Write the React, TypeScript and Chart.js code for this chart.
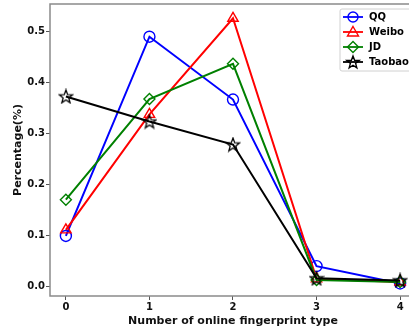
import React, { useEffect, useRef } from "react";
import { Chart, registerables } from "chart.js";

Chart.register(...registerables);

const categories = [0, 1, 2, 3, 4];
const qqValues = [0.099, 0.489, 0.366, 0.04, 0.006];
const weiboValues = [0.111, 0.337, 0.525, 0.015, 0.009];
const jdValues = [0.17, 0.367, 0.436, 0.013, 0.009];
const taobaoValues = [0.372, 0.323, 0.278, 0.016, 0.012];
const seriesNames = ["QQ", "Weibo", "JD", "Taobao"];
const yTicks = [0.0, 0.1, 0.2, 0.3, 0.4, 0.5];

const FONT = "'DejaVu Sans', sans-serif";

function starPath(ctx: CanvasRenderingContext2D, cx: number, cy: number, r: number) {
  const inner = r * 0.42;
  ctx.beginPath();
  for (let i = 0; i < 10; i++) {
    const rad = i % 2 === 0 ? r : inner;
    const a = -Math.PI / 2 + (i * Math.PI) / 5;
    const x = cx + rad * Math.cos(a);
    const y = cy + rad * Math.sin(a);
    if (i === 0) ctx.moveTo(x, y);
    else ctx.lineTo(x, y);
  }
  ctx.closePath();
}

function makeStar(): HTMLCanvasElement {
  const c = document.createElement("canvas");
  c.width = 16;
  c.height = 16;
  const ctx = c.getContext("2d")!;
  ctx.strokeStyle = "#000";
  ctx.lineWidth = 1.3;
  ctx.lineJoin = "miter";
  starPath(ctx, 8, 8.5, 7);
  ctx.stroke();
  return c;
}

export default function App() {
  const ref = useRef<HTMLCanvasElement>(null);
  useEffect(() => {
    const star = makeStar();
    const colors = ["#0000ff", "#ff0000", "#008000", "#000000"];
    const styles: any[] = ["circle", "triangle", "rectRot", star];
    const values = [qqValues, weiboValues, jdValues, taobaoValues];

    const framePlugin = {
      id: "frame",
      beforeDatasetsDraw(chart: any) {
        const { ctx, chartArea } = chart;
        ctx.save();
        ctx.strokeStyle = "#8a8a8a";
        ctx.lineWidth = 1.5;
        ctx.strokeRect(chartArea.left, chartArea.top, chartArea.right - chartArea.left, chartArea.bottom - chartArea.top);
        ctx.restore();
      },
    };

    const legendPlugin = {
      id: "customLegend",
      afterDraw(chart: any) {
        const ctx: CanvasRenderingContext2D = chart.ctx;
        ctx.save();
        const x0 = 340, y0 = 9, w = 76, h = 62;
        ctx.fillStyle = "rgba(255,255,255,0.85)";
        ctx.strokeStyle = "#d0d0d0";
        ctx.lineWidth = 1;
        ctx.beginPath();
        ctx.roundRect(x0, y0, w, h, 2);
        ctx.fill();
        ctx.stroke();
        const rows = [17, 32, 47, 62];
        ctx.font = `bold 10px ${FONT}`;
        ctx.textBaseline = "middle";
        seriesNames.forEach((name, i) => {
          const y = rows[i];
          const col = colors[i];
          ctx.strokeStyle = col;
          ctx.lineWidth = 1.8;
          ctx.beginPath();
          ctx.moveTo(343, y);
          ctx.lineTo(363, y);
          ctx.stroke();
          const cx = 353;
          ctx.lineWidth = 1.4;
          ctx.beginPath();
          if (i === 0) {
            ctx.arc(cx, y, 5, 0, Math.PI * 2);
          } else if (i === 1) {
            ctx.moveTo(cx, y - 5.5);
            ctx.lineTo(cx + 5.5, y + 4);
            ctx.lineTo(cx - 5.5, y + 4);
            ctx.closePath();
          } else if (i === 2) {
            ctx.moveTo(cx, y - 5.5);
            ctx.lineTo(cx + 5.5, y);
            ctx.lineTo(cx, y + 5.5);
            ctx.lineTo(cx - 5.5, y);
            ctx.closePath();
          } else {
            starPath(ctx, cx, y + 0.5, 6.5);
          }
          ctx.stroke();
          ctx.fillStyle = "#000";
          ctx.fillText(name, 369, y + 0.5);
        });
        ctx.restore();
      },
    };

    const chart = new Chart(ref.current!, {
      type: "line",
      data: {
        datasets: seriesNames.map((name, i) => ({
          label: name,
          data: categories.map((c, j) => ({ x: c, y: values[i][j] })),
          borderColor: colors[i],
          backgroundColor: "rgba(0,0,0,0)",
          pointBackgroundColor: "rgba(0,0,0,0)",
          pointBorderColor: colors[i],
          pointStyle: styles[i],
          pointRadius: i === 1 ? 6 : 5.5,
          pointBorderWidth: 1.4,
          borderWidth: 2,
          tension: 0,
          clip: false,
          order: 4 - i,
        })),
      },
      options: {
        animation: false,
        responsive: false,
        maintainAspectRatio: false,
        layout: { autoPadding: false, padding: { top: 4, right: 4, left: 0, bottom: 0 } },
        plugins: { legend: { display: false }, tooltip: { enabled: false } },
        scales: {
          x: {
            type: "linear",
            min: -0.19,
            max: 4.19,
            afterFit: (s: any) => { s.height = 35; s.paddingLeft = 0; s.paddingRight = 0; },
            afterBuildTicks: (s: any) => { s.ticks = categories.map((v) => ({ value: v })); },
            grid: { drawOnChartArea: false, drawTicks: true, tickLength: 4, color: "#555", lineWidth: 1 },
            border: { display: false },
            ticks: { color: "#111", font: { family: FONT, size: 10, weight: "bold" }, padding: 1, maxRotation: 0, callback: (v: any) => String(v) },
            title: { display: true, text: "Number of online fingerprint type", color: "#111", font: { family: FONT, size: 11, weight: "bold" }, padding: { top: 0, bottom: 3 } },
          },
          y: {
            type: "linear",
            min: -0.0185,
            max: 0.553,
            afterFit: (s: any) => { s.width = 50; s.paddingTop = 0; s.paddingBottom = 0; },
            afterBuildTicks: (s: any) => { s.ticks = yTicks.map((v) => ({ value: v })); },
            grid: { drawOnChartArea: false, drawTicks: true, tickLength: 4, color: "#555", lineWidth: 1 },
            border: { display: false },
            ticks: { color: "#111", font: { family: FONT, size: 10, weight: "bold" }, padding: 1, callback: (v: any) => Number(v).toFixed(1) },
            title: { display: true, text: "Percentage(%)", color: "#111", font: { family: FONT, size: 11, weight: "bold" }, padding: { top: 12, bottom: 0 } },
          },
        },
      },
      plugins: [framePlugin, legendPlugin],
    } as any);
    return () => chart.destroy();
  }, []);

  return (
    <div style={{ position: "absolute", left: 0, top: 0, width: 409, height: 331, overflow: "hidden", background: "#fff" }}>
      <canvas ref={ref} width={420} height={331} style={{ width: 420, height: 331, display: "block" }} />
    </div>
  );
}
